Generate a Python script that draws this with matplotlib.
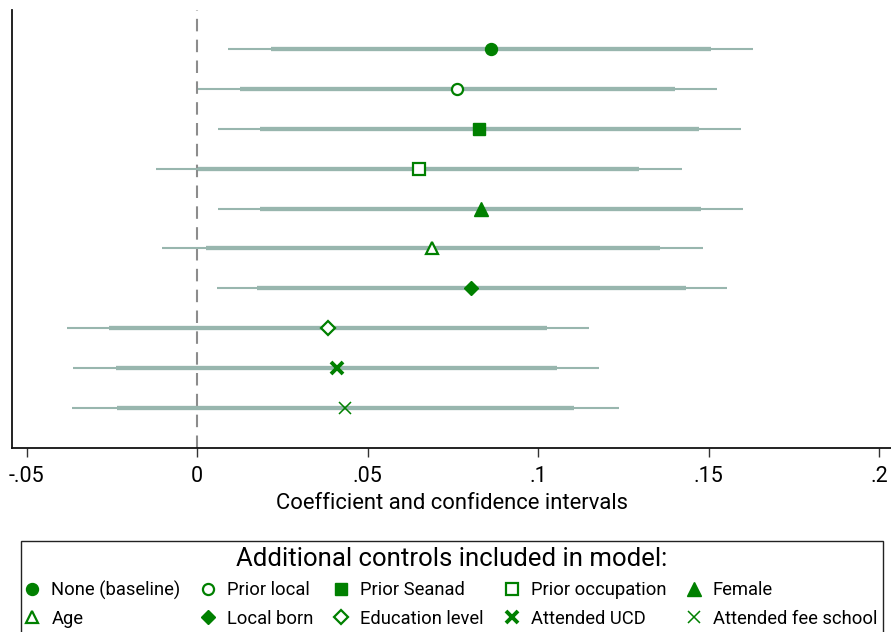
import matplotlib
matplotlib.use("Agg")
import matplotlib.pyplot as plt
from matplotlib.lines import Line2D

plt.rcParams['font.family'] = ['Roboto', 'DejaVu Sans']

labels = ["None (baseline)", "Prior local", "Prior Seanad", "Prior occupation", "Female",
          "Age", "Local born", "Education level", "Attended UCD", "Attended fee school"]
coef = [0.0861, 0.0763, 0.0827, 0.0650, 0.0832, 0.0690, 0.0804, 0.0383, 0.0410, 0.0435]
ci95_lo = [0.0092, 0.0004, 0.0062, -0.0121, 0.0062, -0.0103, 0.0057, -0.0381, -0.0363, -0.0366]
ci95_hi = [0.1630, 0.1524, 0.1594, 0.1421, 0.1601, 0.1484, 0.1553, 0.1150, 0.1180, 0.1237]
ci90_lo = [0.0216, 0.0126, 0.0185, 0.0002, 0.0185, 0.0026, 0.0177, -0.0258, -0.0238, -0.0235]
ci90_hi = [0.1506, 0.1402, 0.1471, 0.1297, 0.1478, 0.1357, 0.1434, 0.1026, 0.1056, 0.1106]
xticks = [-0.05, 0, 0.05, 0.1, 0.15, 0.2]
xticklabels = ["-.05", "0", ".05", ".1", ".15", ".2"]

green = "#008000"
ci_col = "#98b6ae"

# marker styles: (marker, filled, size, edgewidth)
styles = [("o", True, 8.6, 1.0), ("o", False, 8.0, 1.6), ("s", True, 8.4, 1.0),
          ("s", False, 8.0, 1.6), ("^", True, 9.5, 1.0), ("^", False, 9.0, 1.6),
          ("D", True, 7.4, 1.0), ("D", False, 7.2, 1.6), ("x", True, 8.0, 2.8),
          ("x", True, 8.0, 1.1)]

fig = plt.figure(figsize=(8.91, 6.32), dpi=100)
ax = fig.add_axes([12.3 / 891, 1 - 448 / 632, 1 - 12.3 / 891, (448 - 10) / 632])

rows = list(range(1, len(labels) + 1))
ax.axvline(0, color="#8c8c8c", lw=1.5, linestyle=(0, (6, 4)), zorder=1)
handles = []
for i, y in enumerate(rows):
    ax.plot([ci95_lo[i], ci95_hi[i]], [y, y], color=ci_col, lw=1.5, solid_capstyle="butt", zorder=2)
    ax.plot([ci90_lo[i], ci90_hi[i]], [y, y], color=ci_col, lw=3.1, solid_capstyle="butt", zorder=3)
    m, filled, ms, mew = styles[i]
    kw = dict(marker=m, markersize=ms, markeredgewidth=mew, markeredgecolor=green,
              markerfacecolor=green if filled else "white", linestyle="none", zorder=4)
    ax.plot([coef[i]], [y], **kw)
    handles.append(Line2D([], [], **kw))

ax.set_xlim(-0.0542, 0.2035)
ax.set_ylim(11.0, 0.023)
ax.set_yticks([])
ax.set_xticks(xticks)
ax.set_xticklabels(xticklabels, fontsize=15.5)
ax.tick_params(axis="x", length=6.5, width=1, color="#333333", pad=6.5)
ax.set_xlabel("Coefficient and confidence intervals", fontsize=15.8, labelpad=4)
for s in ["top", "right"]:
    ax.spines[s].set_visible(False)
for s in ["left", "bottom"]:
    ax.spines[s].set_linewidth(1.3)
    ax.spines[s].set_color("#111111")

order = [0, 5, 1, 6, 2, 7, 3, 8, 4, 9]
leg = fig.legend([handles[k] for k in order], [labels[k] for k in order], ncol=5,
                 loc="upper center", bbox_to_anchor=(452 / 891, 1 - 541 / 632),
                 fontsize=13.2, title="Additional controls included in model:",
                 title_fontsize=18.5, frameon=True, fancybox=False, edgecolor="#222222",
                 framealpha=1, handlelength=0.6, handletextpad=0.75, columnspacing=1.2,
                 labelspacing=0.55, borderpad=0.3, borderaxespad=0)
leg.get_frame().set_linewidth(1.0)

fig.savefig("out.png", dpi=100)
